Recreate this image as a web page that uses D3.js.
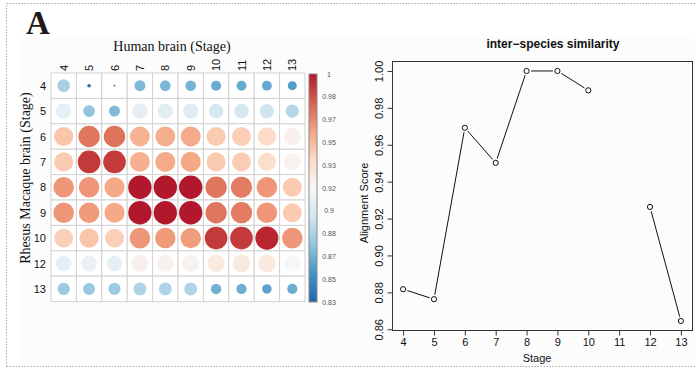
<!DOCTYPE html>
<html>
<head>
<meta charset="utf-8">
<script src="https://cdn.jsdelivr.net/npm/d3@7"></script>
<style>
  html, body { margin: 0; padding: 0; background: #fff; }
  svg { display: block; }
</style>
</head>
<body>
<svg id="chart" width="695" height="370"></svg>
<script>
// ---- data: correlation matrix (rows = macaque stage, cols = human stage)
let humanStages = ["4", "5", "6", "7", "8", "9", "10", "11", "12", "13"]
let macaqueStages = ["4", "5", "6", "7", "8", "9", "10", "12", "13"]

let row4  = [0.880, 0.834, 0.831, 0.867, 0.866, 0.865, 0.862, 0.861, 0.860, 0.855]
let row5  = [0.905, 0.873, 0.868, 0.906, 0.904, 0.903, 0.897, 0.896, 0.894, 0.884]
let row6  = [0.945, 0.972, 0.973, 0.952, 0.954, 0.955, 0.943, 0.941, 0.935, 0.920]
let row7  = [0.943, 0.990, 0.990, 0.953, 0.955, 0.956, 0.943, 0.942, 0.934, 0.919]
let row8  = [0.962, 0.962, 0.956, 1.000, 1.000, 1.000, 0.972, 0.970, 0.962, 0.943]
let row9  = [0.962, 0.961, 0.956, 1.000, 1.000, 1.000, 0.972, 0.970, 0.962, 0.943]
let row10 = [0.941, 0.945, 0.941, 0.962, 0.961, 0.960, 0.990, 0.990, 0.996, 0.962]
let row12 = [0.905, 0.908, 0.905, 0.920, 0.920, 0.919, 0.925, 0.926, 0.926, 0.915]
let row13 = [0.876, 0.875, 0.876, 0.882, 0.882, 0.883, 0.864, 0.863, 0.858, 0.862]
let matrix = [row4, row5, row6, row7, row8, row9, row10, row12, row13]

let colorLimits = [0.83, 1]
let colorbarLabels = ["0.83", "0.85", "0.87", "0.88", "0.9", "0.92", "0.93", "0.95", "0.97", "0.98", "1"]

// ---- data: alignment score line chart
let stages = [4, 5, 6, 7, 8, 9, 10, 11, 12, 13]
let alignScore = [0.8817, 0.8763, 0.9692, 0.9502, 1.0, 1.0, 0.9895, null, 0.9263, 0.8645]
let scoreTicks = [0.86, 0.88, 0.90, 0.92, 0.94, 0.96, 0.98, 1.00]

let svg = d3.select('#chart')
let serif = "'Liberation Serif', 'Times New Roman', serif"
let sans = "'Liberation Sans', Arial, Helvetica, sans-serif"

// dotted frame and panel backgrounds
svg.append('rect')
   .attr('x', 18).attr('y', 38).attr('width', 322).attr('height', 327)
   .attr('fill', '#fcfcfc')
svg.append('rect')
   .attr('x', 340).attr('y', 38).attr('width', 355).attr('height', 327)
   .attr('fill', '#fcfcfc')
svg.append('path')
   .attr('d', 'M6.5,366.5 L6.5,3.5 L695,3.5 M6.5,366.5 L695,366.5')
   .attr('fill', 'none')
   .attr('stroke', '#a8a8a8')
   .attr('stroke-width', 1)
   .attr('stroke-dasharray', '1.5,1.5')

svg.append('text')
   .attr('x', 26).attr('y', 34)
   .attr('font-family', serif)
   .attr('font-weight', 'bold')
   .attr('font-size', 33)
   .attr('fill', '#231815')
   .text('A')

// ---- left panel: corrplot style circles
let gridLeft = 51, gridTop = 73, cell = 25.4

let xCell = d3.scaleBand().domain(humanStages)
              .range([gridLeft, gridLeft + cell * humanStages.length])
let yCell = d3.scaleBand().domain(macaqueStages)
              .range([gridTop, gridTop + cell * macaqueStages.length])

let colorStops = ["#2166ac", "#4393c3", "#92c5de", "#d1e5f0", "#f7f7f7",
                  "#fddbc7", "#f4a582", "#d6604d", "#b2182b"]
let colorScale = d3.scaleLinear()
                   .domain(d3.range(colorStops.length).map(i =>
                       colorLimits[0] + i * (colorLimits[1] - colorLimits[0]) / (colorStops.length - 1)))
                   .range(colorStops)
                   .clamp(true)
// circle area grows with the value above the lower colour limit
let sizeT = d3.scaleLinear().domain(colorLimits).range([0, 1]).clamp(true)
let maxR = cell * 0.46
let radius = v => maxR * Math.sqrt(sizeT(v))

let cells = []
matrix.forEach((row, i) => {
    row.forEach((v, j) => {
        cells.push({ r: macaqueStages[i], c: humanStages[j], v: v })
    })
})

let grid = svg.append('g')
grid.selectAll('rect')
    .data(cells)
    .enter()
    .append('rect')
    .attr('x', d => xCell(d.c))
    .attr('y', d => yCell(d.r))
    .attr('width', xCell.bandwidth())
    .attr('height', yCell.bandwidth())
    .attr('fill', '#fff')
    .attr('stroke', '#d2d2d2')
    .attr('stroke-width', 1)

grid.selectAll('circle')
    .data(cells)
    .enter()
    .append('circle')
    .attr('cx', d => xCell(d.c) + xCell.bandwidth() / 2)
    .attr('cy', d => yCell(d.r) + yCell.bandwidth() / 2)
    .attr('r', d => Math.max(0.6, radius(d.v)))
    .attr('fill', d => colorScale(d.v))

// column labels (rotated)
svg.append('g').selectAll('text')
   .data(humanStages)
   .enter()
   .append('text')
   .attr('transform', d => 'translate(' + (xCell(d) + xCell.bandwidth() / 2 + 4) + ',' + (gridTop - 2) + ') rotate(-90)')
   .attr('font-family', sans)
   .attr('font-size', 11)
   .attr('fill', '#111')
   .text(d => d)

// row labels
svg.append('g').selectAll('text')
   .data(macaqueStages)
   .enter()
   .append('text')
   .attr('x', gridLeft - 5)
   .attr('y', d => yCell(d) + yCell.bandwidth() / 2 + 4)
   .attr('text-anchor', 'end')
   .attr('font-family', sans)
   .attr('font-size', 11)
   .attr('fill', '#111')
   .text(d => d)

svg.append('text')
   .attr('x', 172).attr('y', 51)
   .attr('text-anchor', 'middle')
   .attr('font-family', serif)
   .attr('font-size', 14)
   .attr('fill', '#111')
   .text('Human brain (Stage)')

svg.append('text')
   .attr('transform', 'translate(30,178) rotate(-90)')
   .attr('text-anchor', 'middle')
   .attr('font-family', serif)
   .attr('font-size', 14)
   .attr('fill', '#111')
   .text('Rhesus Macaque brain (Stage)')

// colorbar
let barX = 309, barW = 8
let barY = d3.scaleLinear().domain(colorLimits).range([302, 74])
let defs = svg.append('defs')
let grad = defs.append('linearGradient')
               .attr('id', 'cbar')
               .attr('x1', 0).attr('y1', 1).attr('x2', 0).attr('y2', 0)
grad.selectAll('stop')
    .data(colorScale.domain())
    .enter()
    .append('stop')
    .attr('offset', d => (d - colorLimits[0]) / (colorLimits[1] - colorLimits[0]))
    .attr('stop-color', d => colorScale(d))
svg.append('rect')
   .attr('x', barX).attr('y', barY(colorLimits[1]))
   .attr('width', barW).attr('height', barY(colorLimits[0]) - barY(colorLimits[1]))
   .attr('fill', 'url(#cbar)')
   .attr('stroke', '#8a8a8a')
   .attr('stroke-width', 1)

let labelPos = d3.scalePoint().domain(colorbarLabels).range([302, 74])
svg.append('g').selectAll('text')
   .data(colorbarLabels)
   .enter()
   .append('text')
   .attr('x', 329)
   .attr('y', d => labelPos(d) + 2.5)
   .attr('text-anchor', 'middle')
   .attr('font-family', sans)
   .attr('font-size', 7)
   .attr('fill', '#555')
   .text(d => d)

// ---- right panel: alignment score
let xScale = d3.scaleLinear().domain([3.64, 13.36]).range([392, 692])
let yScale = d3.scaleLinear().domain([0.8596, 1.0054]).range([330, 61])

let pts = stages.map((s, i) => ({ s: s, v: alignScore[i] }))

// segments between consecutive points, with gaps round the circles
let segs = []
for (let i = 1; i < pts.length; i++) {
    if (pts[i - 1].v == null || pts[i].v == null) continue
    let x0 = xScale(pts[i - 1].s), y0 = yScale(pts[i - 1].v)
    let x1 = xScale(pts[i].s), y1 = yScale(pts[i].v)
    let len = Math.hypot(x1 - x0, y1 - y0)
    let gap = 4.5 / len
    segs.push([x0 + (x1 - x0) * gap, y0 + (y1 - y0) * gap, x1 - (x1 - x0) * gap, y1 - (y1 - y0) * gap])
}
svg.append('g').selectAll('line')
   .data(segs)
   .enter()
   .append('line')
   .attr('x1', d => d[0]).attr('y1', d => d[1])
   .attr('x2', d => d[2]).attr('y2', d => d[3])
   .attr('stroke', '#111')
   .attr('stroke-width', 1)

svg.append('g').selectAll('circle')
   .data(pts.filter(d => d.v != null))
   .enter()
   .append('circle')
   .attr('cx', d => xScale(d.s))
   .attr('cy', d => yScale(d.v))
   .attr('r', 2.6)
   .attr('fill', 'none')
   .attr('stroke', '#111')
   .attr('stroke-width', 1)

// axes
let xAxis = d3.axisBottom(xScale).tickValues(stages).tickSize(5).tickSizeOuter(0).tickFormat(d3.format('d'))
let xg = svg.append('g')
            .attr('transform', 'translate(0,330.5)')
            .call(xAxis)
xg.select('.domain').attr('d', 'M' + xScale(4) + ',0H' + xScale(13)).attr('stroke', '#333')
xg.selectAll('line').attr('stroke', '#333')
xg.selectAll('text')
  .attr('font-family', sans).attr('font-size', 11).attr('fill', '#111')
  .attr('y', 8)

let yAxis = d3.axisLeft(yScale).tickValues(scoreTicks).tickSize(5).tickSizeOuter(0).tickFormat(d3.format('.2f'))
let yg = svg.append('g')
            .attr('transform', 'translate(392.5,0)')
            .call(yAxis)
yg.select('.domain').remove()
yg.selectAll('line').attr('stroke', '#333')
yg.selectAll('text')
  .attr('font-family', sans).attr('font-size', 11).attr('fill', '#111')
  .attr('x', null).attr('dy', null)
  .attr('text-anchor', 'middle')
  .attr('transform', 'translate(-10,0) rotate(-90)')

svg.append('rect')
   .attr('x', 392.5).attr('y', 61.5)
   .attr('width', 300).attr('height', 269)
   .attr('fill', 'none')
   .attr('stroke', '#333')
   .attr('stroke-width', 1)

svg.append('text')
   .attr('x', 553).attr('y', 48)
   .attr('text-anchor', 'middle')
   .attr('font-family', sans)
   .attr('font-weight', 'bold')
   .attr('font-size', 12)
   .attr('fill', '#111')
   .text('inter\u2212species similarity')

svg.append('text')
   .attr('x', 537).attr('y', 362)
   .attr('text-anchor', 'middle')
   .attr('font-family', sans)
   .attr('font-size', 11)
   .attr('fill', '#111')
   .text('Stage')

svg.append('text')
   .attr('transform', 'translate(368,203) rotate(-90)')
   .attr('text-anchor', 'middle')
   .attr('font-family', sans)
   .attr('font-size', 11)
   .attr('fill', '#111')
   .text('Alignment Score')
</script>
</body>
</html>
